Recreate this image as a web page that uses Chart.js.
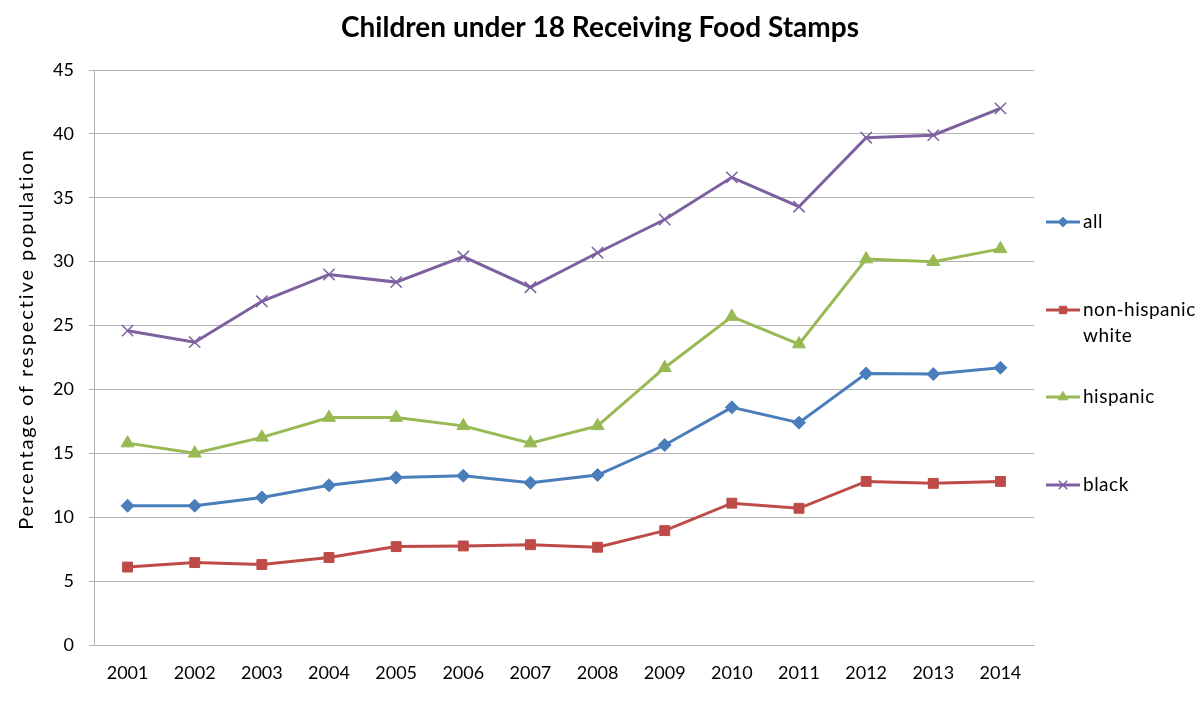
<!DOCTYPE html>
<html>
<head>
<meta charset="utf-8">
<script src="https://cdn.jsdelivr.net/npm/chart.js@4.4.1/dist/chart.umd.min.js"></script>
<style>
  html, body { margin: 0; padding: 0; background: #ffffff; }
  #wrap { width: 1200px; height: 708px; position: relative; }
</style>
</head>
<body>
<div id="wrap"><canvas id="c" width="1200" height="708"></canvas></div>
<script>
const years = ['2001','2002','2003','2004','2005','2006','2007','2008','2009','2010','2011','2012','2013','2014'];
const allKids = [10.9, 10.9, 11.55, 12.5, 13.1, 13.25, 12.7, 13.3, 15.65, 18.6, 17.4, 21.25, 21.2, 21.7];
const nonHispanicWhite = [6.1, 6.45, 6.3, 6.85, 7.7, 7.75, 7.85, 7.65, 8.95, 11.1, 10.7, 12.8, 12.65, 12.8];
const hispanic = [15.8, 15.0, 16.25, 17.8, 17.8, 17.15, 15.8, 17.15, 21.7, 25.7, 23.55, 30.2, 30.0, 31.0];
const black = [24.6, 23.7, 26.9, 29.0, 28.4, 30.4, 28.0, 30.7, 33.3, 36.6, 34.3, 39.7, 39.9, 42.0];
const seriesNames = ['all', ['non-hispanic', 'white'], 'hispanic', 'black'];
const titleText = 'Children under 18 Receiving Food Stamps';
const yTitle = 'Percentage of respective population';

const FONT = 'Lato, "Open Sans", sans-serif';

const legendPlugin = {
  id: 'sideLegend',
  afterDraw(chart) {
    const ctx = chart.ctx;
    const area = chart.chartArea;
    const ys = [222, 310, 397, 485];
    chart.data.datasets.forEach((ds, i) => {
      const y = ys[i];
      const x0 = area.right + 12, x1 = x0 + 34;
      ctx.save();
      ctx.strokeStyle = ds.borderColor;
      ctx.lineWidth = 3;
      ctx.beginPath(); ctx.moveTo(x0, y); ctx.lineTo(x1, y); ctx.stroke();
      ctx.fillStyle = ds.pointBackgroundColor;
      ctx.strokeStyle = ds.pointBorderColor;
      ctx.lineWidth = ds.pointBorderWidth;
      Chart.helpers.drawPoint(ctx, { pointStyle: ds.pointStyle, radius: ds.pointRadius * 0.75, rotation: 0, borderWidth: ds.pointBorderWidth }, (x0 + x1) / 2, y);
      ctx.fillStyle = '#000';
      ctx.font = '19px ' + FONT;
      ctx.letterSpacing = '0.5px';
      ctx.textBaseline = 'middle';
      ctx.textAlign = 'left';
      const lines = Array.isArray(seriesNames[i]) ? seriesNames[i] : [seriesNames[i]];
      lines.forEach((t, k) => ctx.fillText(t, x1 + 3, y + k * 26));
      ctx.restore();
    });
  }
};

const titlePlugin = {
  id: 'topTitle',
  afterDraw(chart) {
    const ctx = chart.ctx;
    ctx.save();
    ctx.fillStyle = '#000';
    ctx.font = 'bold 28px ' + FONT;
    ctx.textAlign = 'center';
    ctx.textBaseline = 'middle';
    ctx.fillText(titleText, 600, 28);
    ctx.restore();

    ctx.save();
    ctx.translate(27, 339);
    ctx.rotate(-Math.PI / 2);
    ctx.fillStyle = '#000';
    ctx.font = '20px ' + FONT;
    ctx.letterSpacing = '1.9px';
    ctx.textAlign = 'center';
    ctx.textBaseline = 'middle';
    ctx.fillText(yTitle, 0, 0);
    ctx.restore();
  }
};

function mk(label, data, color, style, radius, bw) {
  return {
    label: label,
    data: data,
    borderColor: color,
    backgroundColor: color,
    pointBackgroundColor: color,
    pointBorderColor: color,
    borderWidth: 3,
    pointStyle: style,
    pointRadius: radius,
    pointHoverRadius: radius,
    pointBorderWidth: bw,
    tension: 0
  };
}

new Chart(document.getElementById('c'), {
  type: 'line',
  data: {
    labels: years,
    datasets: [
      mk('all', allKids, '#4A7EBB', 'rectRot', 6.5, 1),
      mk('non-hispanic white', nonHispanicWhite, '#BE4B48', 'rect', 7, 1),
      mk('hispanic', hispanic, '#98B954', 'triangle', 7.5, 1),
      mk('black', black, '#7D60A0', 'crossRot', 8, 1.5)
    ]
  },
  options: {
    responsive: false,
    animation: false,
    devicePixelRatio: 1,
    layout: { padding: { top: 70, right: 166, left: 0, bottom: 0 } },
    plugins: {
      legend: { display: false },
      title: { display: false },
      tooltip: { enabled: false }
    },
    scales: {
      x: {
        offset: true,
        grid: { display: false, drawTicks: false },
        border: { display: true, color: '#b3b3b3', width: 1 },
        ticks: { color: '#000', font: { family: FONT, size: 18 }, padding: 17, maxRotation: 0 },
        afterFit(scale) { scale.height = 63; }
      },
      y: {
        min: 0, max: 45,
        ticks: { stepSize: 5, color: '#000', font: { family: FONT, size: 18 }, padding: 15 },
        grid: { color: '#b3b3b3', lineWidth: 1, tickLength: 5 },
        border: { display: true, color: '#b3b3b3', width: 1 },
        title: { display: false },
        afterFit(scale) { scale.width = 94; }
      }
    }
  },
  plugins: [legendPlugin, titlePlugin]
});
</script>
</body>
</html>
